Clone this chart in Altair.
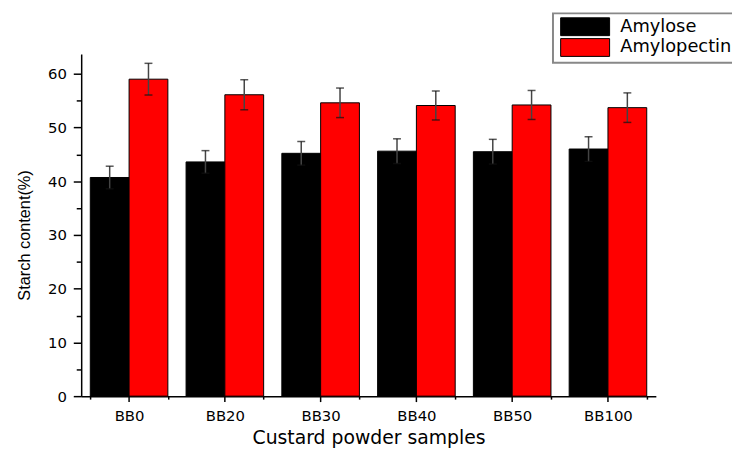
import altair as alt
import pandas as pd

samples = ["BB0", "BB20", "BB30", "BB40", "BB50", "BB100"]
series = ["Amylose", "Amylopectin"]
amylose = [40.7, 43.6, 45.2, 45.6, 45.5, 46.0]
amylose_err = [2.1, 2.1, 2.2, 2.3, 2.3, 2.3]
amylopectin = [59.0, 56.1, 54.6, 54.1, 54.2, 53.7]
amylopectin_err = [2.95, 2.8, 2.75, 2.7, 2.7, 2.75]
colors = ["#000000", "#ff0000"]
y_ticks = [0, 5, 10, 15, 20, 25, 30, 35, 40, 45, 50, 55, 60]

rows = []
for s, a, ae, p, pe in zip(samples, amylose, amylose_err, amylopectin, amylopectin_err):
    rows.append(dict(sample=s, series=series[0], value=a, lo=a - ae, hi=a + ae))
    rows.append(dict(sample=s, series=series[1], value=p, lo=p - pe, hi=p + pe))
df = pd.DataFrame(rows)
df_s = pd.DataFrame({"sample": samples})

x_scale = alt.Scale(domain=samples, paddingInner=0.19, paddingOuter=0.095)
y_scale = alt.Scale(domain=[0, 63.7], nice=False)

x_axis = alt.Axis(
    title="Custard powder samples", tickBand="extent", tickSize=3,
    labelFont="DejaVu Sans", labelFontSize=15, labelPadding=10, labelAngle=0,
    titleFont="DejaVu Sans", titleFontSize=19, titleFontWeight="normal", titlePadding=4.5,
)
y_axis = alt.Axis(
    title="Starch content(%)", values=y_ticks,
    labelExpr="datum.value % 10 === 0 ? datum.label : ''",
    tickSize={"condition": {"test": "datum.value % 10 === 0", "value": 8}, "value": 5},
    labelFont="DejaVu Sans", labelFontSize=15, labelPadding=7,
    titleFont="Liberation Sans", titleFontSize=16.5, titleFontWeight="normal",
    titlePadding=15, titleY=183,
)

path = "M-2.75,-1L2.75,-1L2.75,1L-2.75,1Z"
legend = alt.Legend(
    orient="none", legendX=477, legendY=-41, title=None,
    symbolType=path, symbolSize=324, symbolOffset=19,
    symbolStrokeColor="black", symbolStrokeWidth=1,
    labelFont="DejaVu Sans", labelFontSize=18, labelOffset=26, rowPadding=-2,
    labelExpr="datum.label + '   '",
    padding=4, strokeColor="#888888", fillColor="white",
)

base = alt.Chart(df)
xenc = alt.X("sample:N", scale=x_scale, sort=samples, axis=x_axis)
xoff = alt.XOffset("series:N", sort=series, scale=alt.Scale(domain=series))

bars = base.mark_bar(stroke="black", strokeWidth=1).encode(
    x=xenc,
    xOffset=xoff,
    y=alt.Y("value:Q", scale=y_scale, axis=y_axis),
    fill=alt.Fill("series:N", sort=series,
                  scale=alt.Scale(domain=series, range=colors), legend=legend),
)

err = base.mark_rule(color="#444444", strokeWidth=1.5).encode(
    x=xenc, xOffset=xoff,
    y=alt.Y("lo:Q", scale=y_scale, axis=y_axis), y2="hi:Q",
)
cap_hi = base.mark_tick(color="#111111", size=8, thickness=1.5).encode(
    x=xenc, xOffset=xoff, y=alt.Y("hi:Q", scale=y_scale, axis=y_axis),
)
cap_lo = base.mark_tick(color="#111111", size=8, thickness=1.5).encode(
    x=xenc, xOffset=xoff, y=alt.Y("lo:Q", scale=y_scale, axis=y_axis),
)
center_ticks = alt.Chart(df_s).mark_rule(color="black", strokeWidth=1.5, y2Offset=6).encode(
    x=xenc, y=alt.Y(datum=0, scale=y_scale, axis=y_axis), y2=alt.datum(0),
)

chart = alt.layer(bars, err, cap_hi, cap_lo, center_ticks).properties(
    width=581, height=346,
    autosize=alt.AutoSizeParams(type="none"),
    padding={"left": 74, "top": 44, "right": 77, "bottom": 51},
).configure_view(stroke=None).configure_axis(
    domainColor="black", domainWidth=1.5, tickColor="black", tickWidth=1.5,
    labelColor="black", titleColor="black", grid=False,
).configure_legend(strokeWidth=2)

chart.save("out.html", embed_options={"renderer": "svg", "actions": False})
